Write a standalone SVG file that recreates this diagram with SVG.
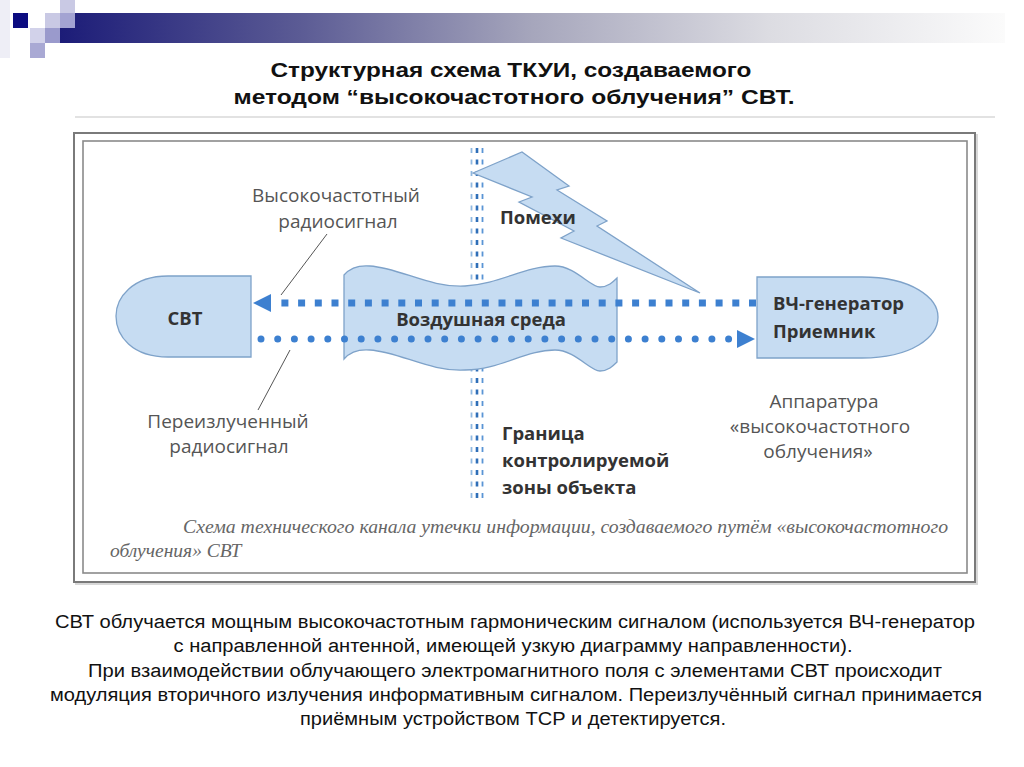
<svg xmlns="http://www.w3.org/2000/svg" width="1024" height="767" viewBox="0 0 1024 767">
<defs>
<linearGradient id="bar" x1="60" y1="0" x2="1005" y2="0" gradientUnits="userSpaceOnUse">
<stop offset="0" stop-color="#1c1c78"/>
<stop offset="0.25" stop-color="#5a5a94"/>
<stop offset="0.5" stop-color="#a6a6bc"/>
<stop offset="0.75" stop-color="#dcdce2"/>
<stop offset="1" stop-color="#fbfbfb"/>
</linearGradient>
</defs>
<style>
.shape{fill:#c6dcf2;stroke:#7ea2c9;stroke-width:1.3}
.bold{font-family:"Open Sans","Liberation Sans",sans-serif;font-weight:700;fill:#333;font-size:18.5px}
.reg{font-family:"Open Sans","Liberation Sans",sans-serif;fill:#555;font-size:19px}
.cap{font-family:"Liberation Serif",serif;font-style:italic;fill:#666;font-size:19.5px}
.body{font-family:"Liberation Sans",Arial,sans-serif;fill:#111;font-size:18px}
.title{font-family:"Liberation Sans",Arial,sans-serif;font-weight:700;fill:#111;font-size:20px}
.leader{stroke:#555;stroke-width:1;fill:none}
.bnd{fill:none;stroke-dasharray:5 6.5}
.arrow{fill:#3d80d0}
</style>
<rect width="1024" height="767" fill="#ffffff"/>

<g id="header">
<rect x="0" y="0" width="10" height="58" fill="#eeeef6"/>
<rect x="60" y="13" width="945" height="30" fill="url(#bar)"/>
<rect x="13" y="13" width="15" height="15" fill="#0c0c80"/>
<rect x="60" y="0" width="15" height="13" fill="#c9c9e4"/>
<rect x="45" y="13" width="15" height="15" fill="#c9c9e4"/>
<rect x="60" y="13" width="15" height="15" fill="#a3a3d2"/>
<rect x="30" y="28" width="15" height="15" fill="#d2d2ea"/>
<rect x="45" y="28" width="15" height="15" fill="#9a9acc"/>
<rect x="30" y="43" width="15" height="15" fill="#a9a9d4"/>
</g>

<g id="title">
<text class="title" x="511" y="77" text-anchor="middle" textLength="481" lengthAdjust="spacingAndGlyphs">Структурная схема ТКУИ, создаваемого</text>
<text class="title" x="514" y="104" text-anchor="middle" textLength="561" lengthAdjust="spacingAndGlyphs">методом “высокочастотного облучения” СВТ.</text>
</g>

<g id="frame">
<line x1="75" y1="117" x2="995" y2="117" stroke="#e2e2e2" stroke-width="2"/>
<rect x="76" y="135" width="901" height="449" fill="none" stroke="#d8d8d8" stroke-width="2"/>
<rect x="74" y="133" width="901" height="449" fill="#ffffff" stroke="#7a7a7a" stroke-width="2"/>
<rect x="83" y="141" width="884" height="432" fill="none" stroke="#8a8a8a" stroke-width="1.6"/>
</g>

<g id="boundary">
<line class="bnd" x1="471.5" y1="148" x2="471.5" y2="500" stroke="#8fb8e0" stroke-width="1.8"/>
<line class="bnd" x1="477" y1="148" x2="477" y2="500" stroke="#2f6fb8" stroke-width="2.6"/>
<line class="bnd" x1="482.5" y1="148" x2="482.5" y2="500" stroke="#5a95d5" stroke-width="1.8"/>
</g>

<g id="node-interference">
<polygon class="shape" points="473,173 522,152 569,186 557,190 607,221 597,226 700,293 561,238 574,231 519,202 532,197"/>
<text class="bold" x="500" y="224" font-size="19">Помехи</text>
</g>

<g id="node-air">
<path class="shape" d="M344,275 C350,268 358,265 370,266 C400,268 430,288 465,286 C500,284 525,266 555,266 C575,266 590,287 600,287 C608,287 613,282 617,278 L617,362 C613,366 608,371 600,371 C590,371 575,350 555,350 C525,350 500,370 465,370 C430,372 400,352 370,350 C358,349 350,352 344,359 Z"/>
<text class="bold" x="481" y="326" text-anchor="middle">Воздушная среда</text>
</g>

<g id="node-svt">
<path class="shape" d="M251,276 L168,276 C132,276 116,298 116,316 C116,336 132,357 168,357 L251,357 Z"/>
<text class="bold" x="185" y="325" text-anchor="middle" font-size="20">СВТ</text>
</g>

<g id="node-gen">
<path class="shape" d="M757,277 L862,277 C912,277 938,298 938,317 C938,337 912,358 862,358 L757,358 Z"/>
<text class="bold" x="773" y="310">ВЧ-генератор</text>
<text class="bold" x="773" y="338">Приемник</text>
</g>

<g id="connectors">
<line x1="756" y1="303" x2="274" y2="303" stroke="#3d80d0" stroke-width="7" stroke-dasharray="7 9.7"/>
<path class="arrow" d="M253,303 L271,294 L271,312 Z"/>
<line x1="261" y1="339" x2="730" y2="339" stroke="#3d80d0" stroke-width="7" stroke-linecap="round" stroke-dasharray="0 16.7"/>
<path class="arrow" d="M755,339 L737,330 L737,348 Z"/>
<line class="leader" x1="327" y1="234" x2="281" y2="295"/>
<line class="leader" x1="290" y1="350" x2="258" y2="410"/>
</g>

<g id="labels">
<text class="reg" x="336" y="202" text-anchor="middle">Высокочастотный</text>
<text class="reg" x="338" y="228" text-anchor="middle">радиосигнал</text>
<text class="reg" x="228" y="428" text-anchor="middle">Переизлученный</text>
<text class="reg" x="229" y="453" text-anchor="middle">радиосигнал</text>
<text class="reg" x="824" y="408" text-anchor="middle">Аппаратура</text>
<text class="reg" x="820" y="433" text-anchor="middle">«высокочастотного</text>
<text class="reg" x="818" y="458" text-anchor="middle">облучения»</text>
<text class="bold" x="502" y="440" font-size="19">Граница</text>
<text class="bold" x="502" y="467" font-size="19">контролируемой</text>
<text class="bold" x="502" y="494" font-size="19">зоны объекта</text>
<text class="cap" x="183" y="533" textLength="765" lengthAdjust="spacingAndGlyphs">Схема технического канала утечки информации, создаваемого путём «высокочастотного</text>
<text class="cap" x="110" y="557">облучения» СВТ</text>
</g>

<g id="description">
<text class="body" x="515" y="628" text-anchor="middle" textLength="920" lengthAdjust="spacingAndGlyphs">СВТ облучается мощным высокочастотным гармоническим сигналом (используется ВЧ-генератор</text>
<text class="body" x="513" y="652" text-anchor="middle" textLength="679" lengthAdjust="spacingAndGlyphs">с направленной антенной, имеющей узкую диаграмму направленности).</text>
<text class="body" x="515" y="677" text-anchor="middle" textLength="854" lengthAdjust="spacingAndGlyphs">При взаимодействии облучающего электромагнитного поля с элементами СВТ происходит</text>
<text class="body" x="516" y="701" text-anchor="middle" textLength="932" lengthAdjust="spacingAndGlyphs">модуляция вторичного излучения информативным сигналом. Переизлучённый сигнал принимается</text>
<text class="body" x="513" y="725" text-anchor="middle" textLength="426" lengthAdjust="spacingAndGlyphs">приёмным устройством ТСР и детектируется.</text>
</g>
</svg>
